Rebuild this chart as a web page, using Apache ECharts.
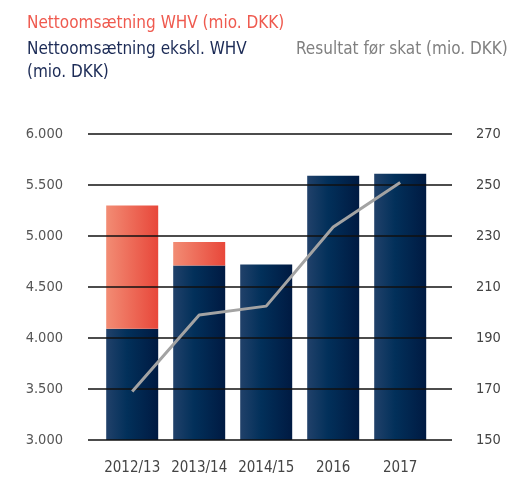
<!DOCTYPE html>
<html>
<head>
<meta charset="utf-8">
<script src="https://cdn.jsdelivr.net/npm/echarts@6/dist/echarts.min.js"></script>
<style>
  html, body { margin: 0; padding: 0; background: #fff; }
  #chart { width: 509px; height: 480px; }
</style>
</head>
<body>
<div id="chart"></div>
<script>
// data
const years = ['2012/13', '2013/14', '2014/15', '2016', '2017'];
const salesExWhv = [4090, 4710, 4720, 5590, 5610];   // mio. DKK
const salesWhv = [1210, 230, '-', '-', '-'];         // added on top
const profitBeforeTax = [169, 199, 202.5, 233.5, 251];

const FONT = "'DejaVu Sans Condensed', 'Liberation Sans Narrow', sans-serif";

const chart = echarts.init(document.getElementById('chart'));

const navyGrad = new echarts.graphic.LinearGradient(0, 0, 1, 0, [
  { offset: 0, color: '#21416a' },
  { offset: 0.4, color: '#02305a' },
  { offset: 1, color: '#001a42' }
]);
const redGrad = new echarts.graphic.LinearGradient(0, 0, 1, 0, [
  { offset: 0, color: '#f28c74' },
  { offset: 1, color: '#e8473a' }
]);

// 3000 -> "3.000"
const dkNum = v => String(v).replace(/\B(?=(\d{3})+(?!\d))/g, '.');

const option = {
  animation: false,
  textStyle: { fontFamily: FONT },
  title: [
    {
      text: 'Nettoomsætning WHV (mio. DKK)',
      left: 22, top: 10,
      textStyle: { color: '#ef5a4f', fontSize: 17, fontWeight: 'normal', fontFamily: FONT }
    },
    {
      text: 'Nettoomsætning ekskl. WHV\n(mio. DKK)',
      left: 22, top: 33,
      textStyle: { color: '#1c2b56', fontSize: 17, fontWeight: 'normal', fontFamily: FONT, lineHeight: 23 }
    },
    {
      text: 'Resultat før skat (mio. DKK)',
      left: 291, top: 33,
      textStyle: { color: '#808080', fontSize: 17, fontWeight: 'normal', fontFamily: FONT, lineHeight: 23 }
    }
  ],
  grid: [
    { left: 88, right: 57, top: 134, bottom: 40 },
    { left: 98.7, width: 335, top: 134, bottom: 40 }
  ],
  xAxis: [
    { type: 'value', gridIndex: 0, show: false, min: 0, max: 1 },
    {
      type: 'category', gridIndex: 1, data: years,
      axisLine: { show: false }, axisTick: { show: false },
      axisLabel: { color: '#444', fontSize: 15, margin: 21, interval: 0, fontFamily: FONT }
    }
  ],
  yAxis: [
    {
      type: 'value', gridIndex: 0, position: 'left', min: 3000, max: 6000, interval: 500, z: 2,
      axisLine: { show: false }, axisTick: { show: false },
      splitLine: { lineStyle: { color: '#111', width: 1.5 } },
      axisLabel: { color: '#555', fontSize: 14.5, margin: 25, fontFamily: FONT, formatter: dkNum }
    },
    {
      type: 'value', gridIndex: 0, position: 'right', min: 150, max: 270, interval: 20,
      axisLine: { show: false }, axisTick: { show: false }, splitLine: { show: false },
      axisLabel: { color: '#444', fontSize: 14.5, margin: 24, fontFamily: FONT }
    },
    { type: 'value', gridIndex: 1, min: 3000, max: 6000, show: false },
    { type: 'value', gridIndex: 1, min: 150, max: 270, show: false }
  ],
  series: [
    {
      name: 'Nettoomsætning ekskl. WHV (mio. DKK)',
      type: 'bar', xAxisIndex: 1, yAxisIndex: 2, stack: 'sales', z: 1,
      barWidth: 52,
      itemStyle: { color: navyGrad },
      data: salesExWhv
    },
    {
      name: 'Nettoomsætning WHV (mio. DKK)',
      type: 'bar', xAxisIndex: 1, yAxisIndex: 2, stack: 'sales', z: 1,
      barWidth: 52,
      itemStyle: { color: redGrad },
      data: salesWhv
    },
    {
      name: 'Resultat før skat (mio. DKK)',
      type: 'line', xAxisIndex: 1, yAxisIndex: 3, z: 5,
      symbol: 'none',
      lineStyle: { color: '#a3a3a3', width: 3 },
      data: profitBeforeTax
    }
  ]
};

chart.setOption(option);
</script>
</body>
</html>
